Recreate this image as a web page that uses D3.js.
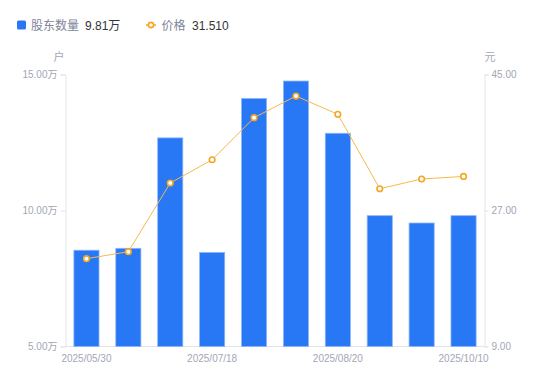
<!DOCTYPE html>
<html>
<head>
<meta charset="utf-8">
<script src="https://cdn.jsdelivr.net/npm/d3@7"></script>
<style>
  body { margin: 0; background: #fff; }
  svg text { font-family: "Liberation Sans", Arial, "Noto Sans CJK SC", sans-serif; }
</style>
</head>
<body>
<svg id="chart" width="550" height="381"></svg>
<script>
"use strict";

const dates = ['2025/05/30', '2025/06/20', '2025/06/30', '2025/07/18', '2025/07/31',
               '2025/08/10', '2025/08/20', '2025/09/10', '2025/09/30', '2025/10/10'];
const holders = [8.54, 8.61, 12.67, 8.46, 14.12, 14.76, 12.84, 9.81, 9.54, 9.81];
const prices = [20.62, 21.55, 30.64, 33.72, 39.28, 42.15, 39.73, 29.88, 31.17, 31.51];
const leftTicks = [5, 10, 15];
const rightTicks = [9, 27, 45];
const shownDates = ['2025/05/30', '2025/07/18', '2025/08/20', '2025/10/10'];

let svg = d3.select('svg#chart');

let dim = { left: 65.5, right: 484.5, top: 74.5, bottom: 346.5 };

let x = d3.scaleBand().domain(dates).range([dim.left, dim.right]).paddingInner(0.4).paddingOuter(0.2);
let yL = d3.scaleLinear().domain([5, 15]).range([dim.bottom, dim.top]);
let yR = d3.scaleLinear().domain([9, 45]).range([dim.bottom, dim.top]);

let axisColor = '#e3e4e8';
let labelColor = '#a3a6b6';

/* axes */
let gL = svg.append('g')
  .attr('transform', `translate(${dim.left},0)`)
  .call(d3.axisLeft(yL).tickValues(leftTicks).tickSize(5).tickPadding(3)
    .tickFormat(d => d3.format('.2f')(d) + '万'));
let gR = svg.append('g')
  .attr('transform', `translate(${dim.right},0)`)
  .call(d3.axisRight(yR).tickValues(rightTicks).tickSize(4).tickPadding(3)
    .tickFormat(d3.format('.2f')));
let gB = svg.append('g')
  .attr('transform', `translate(0,${dim.bottom})`)
  .call(d3.axisBottom(x).tickValues(shownDates).tickSize(0).tickPadding(8.5));

[gL, gR, gB].forEach(g => {
  g.select('.domain').attr('stroke', axisColor);
  g.selectAll('.tick line').attr('stroke', axisColor);
  g.selectAll('.tick text').attr('fill', labelColor).style('font-size', '10px');
});
gB.select('.domain').attr('d', `M${dim.left},0H${dim.right}`);

/* unit labels */
svg.append('text').attr('x', 59).attr('y', 61).attr('text-anchor', 'middle')
   .attr('fill', labelColor).style('font-size', '11px').text('户');
svg.append('text').attr('x', 490).attr('y', 61).attr('text-anchor', 'middle')
   .attr('fill', labelColor).style('font-size', '11px').text('元');

/* bars */
svg.append('g').selectAll('rect')
  .data(holders)
  .enter()
  .append('rect')
  .attr('x', (d, i) => x(dates[i]))
  .attr('y', d => yL(d))
  .attr('width', x.bandwidth())
  .attr('height', d => dim.bottom - yL(d))
  .attr('fill', '#2877f5')
  .attr('stroke', '#8db8fa')
  .attr('stroke-width', 0.8);

/* price line */
let line = d3.line()
  .x((d, i) => x(dates[i]) + x.bandwidth() / 2)
  .y(d => yR(d));
svg.append('path')
  .datum(prices)
  .attr('d', line)
  .attr('fill', 'none')
  .attr('stroke', '#f8b84e')
  .attr('stroke-width', 1);
svg.append('g').selectAll('circle')
  .data(prices)
  .enter()
  .append('circle')
  .attr('cx', (d, i) => x(dates[i]) + x.bandwidth() / 2)
  .attr('cy', d => yR(d))
  .attr('r', 2.8)
  .attr('fill', '#fff')
  .attr('stroke', '#f5a623')
  .attr('stroke-width', 1.6);

/* legend */
let lg = svg.append('g');
lg.append('rect').attr('x', 17).attr('y', 20.5).attr('width', 9).attr('height', 9)
  .attr('rx', 1.5).attr('fill', '#2877f5');
lg.append('text').attr('x', 31).attr('y', 29.5).attr('fill', '#80859a')
  .style('font-size', '12px').text('股东数量');
lg.append('text').attr('x', 85).attr('y', 29.5).attr('fill', '#333')
  .style('font-size', '12px').text(d3.format('.2f')(holders[holders.length - 1]) + '万');
lg.append('line').attr('x1', 146).attr('x2', 156).attr('y1', 25).attr('y2', 25)
  .attr('stroke', '#f5a623').attr('stroke-width', 1.5);
lg.append('circle').attr('cx', 151).attr('cy', 25).attr('r', 2.6)
  .attr('fill', '#fff').attr('stroke', '#f5a623').attr('stroke-width', 1.6);
lg.append('text').attr('x', 161.5).attr('y', 29.5).attr('fill', '#80859a')
  .style('font-size', '12px').text('价格');
lg.append('text').attr('x', 192).attr('y', 29.5).attr('fill', '#333')
  .style('font-size', '12px').text(d3.format('.3f')(prices[prices.length - 1]));
</script>
</body>
</html>
